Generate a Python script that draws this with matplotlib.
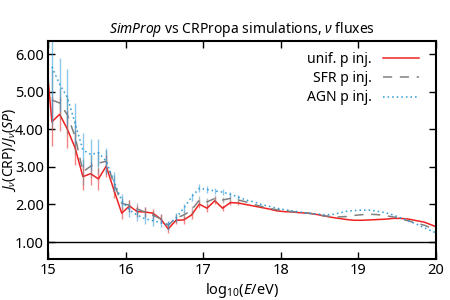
import matplotlib
matplotlib.use("Agg")
import matplotlib.pyplot as plt
import numpy as np

plt.rcParams["font.family"] = ["Noto Sans", "DejaVu Sans"]
plt.rcParams["mathtext.fontset"] = "custom"
plt.rcParams["mathtext.rm"] = "Noto Sans"
plt.rcParams["mathtext.it"] = "Noto Sans:italic"

# bin centres in log10(E/eV)
log_e = np.round(np.arange(14.95, 20.06, 0.1), 2)

unif = [6.50, 4.20, 4.40, 4.00, 3.50, 2.74, 2.82, 2.68, 3.02, 2.38,
        1.77, 1.96, 1.81, 1.80, 1.77, 1.62, 1.35, 1.58, 1.59, 1.72,
        2.01, 1.90, 2.10, 1.90, 2.05, 2.04, 2.00, 1.96, 1.92, 1.88,
        1.83, 1.81, 1.80, 1.78, 1.77, 1.74, 1.70, 1.66, 1.63, 1.60,
        1.58, 1.58, 1.59, 1.60, 1.61, 1.63, 1.63, 1.61, 1.57, 1.53,
        1.45, 1.37]
unif_err = [0.80, 0.65, 0.45, 0.50, 0.45, 0.35, 0.30, 0.30, 0.30, 0.22,
            0.16, 0.15, 0.15, 0.13, 0.12, 0.12, 0.10, 0.10, 0.10, 0.10,
            0.10, 0.10, 0.09, 0.08, 0.06, 0.05] + [0.0] * 26

sfr = [np.nan, 4.78, 4.70, 4.38, 3.80, 2.87, 3.02, 3.10, 3.15, 2.56,
       2.03, 1.98, 1.88, 1.80, 1.72, 1.62, 1.45, 1.64, 1.72, 1.85,
       2.12, 2.07, 2.16, 2.12, 2.16, 2.12, 2.07, 2.00, 1.95, 1.90,
       1.86, 1.84, 1.81, 1.79, 1.77, 1.74, 1.70, 1.68, 1.67, 1.68,
       1.71, 1.73, 1.74, 1.73, 1.70, 1.67, 1.62, 1.56, 1.50, 1.45,
       1.36, 1.28]
sfr_err = [0.0, 0.80, 0.40, 0.50, 0.45, 0.35, 0.30, 0.30, 0.30, 0.22,
           0.16, 0.15, 0.15, 0.13, 0.12, 0.12, 0.10, 0.10, 0.10, 0.10,
           0.10, 0.10, 0.09, 0.08, 0.06, 0.05] + [0.0] * 26

agn = [np.nan, 5.66, 5.20, 4.85, 4.15, 3.45, 3.33, 3.38, 3.15, 2.62,
       2.10, 1.85, 1.72, 1.62, 1.57, 1.52, 1.45, 1.65, 1.90, 2.20,
       2.43, 2.40, 2.36, 2.33, 2.27, 2.20, 2.12, 2.07, 2.00, 1.95,
       1.90, 1.86, 1.83, 1.80, 1.77, 1.75, 1.73, 1.73, 1.77, 1.82,
       1.84, 1.85, 1.85, 1.82, 1.78, 1.72, 1.64, 1.56, 1.48, 1.38,
       1.29, 1.20]
agn_err = [0.0, 1.50, 0.70, 0.75, 0.55, 0.45, 0.40, 0.35, 0.35, 0.25,
           0.18, 0.17, 0.17, 0.15, 0.14, 0.13, 0.12, 0.12, 0.11, 0.11,
           0.11, 0.10, 0.09, 0.08, 0.06, 0.05] + [0.0] * 26

SERIES = [
    ("unif. p inj.", unif, unif_err, "#ee2222", "-"),
    ("SFR p inj.", sfr, sfr_err, "#808080", (0, (6, 5))),
    ("AGN p inj.", agn, agn_err, "#2a9ad8", (0, (1, 2))),
]

fig = plt.figure(figsize=(4.5, 3.0), dpi=100)
ax = fig.add_axes([0.1067, 0.1367, 0.862, 0.7267])

ax.axhline(1.0, color="black", lw=1.0, zorder=1)

for label, vals, errs, color, ls in SERIES:
    vals = np.asarray(vals, dtype=float)
    errs = np.asarray(errs, dtype=float)
    has_err = errs > 0
    ax.vlines(log_e[has_err], vals[has_err] - errs[has_err],
              vals[has_err] + errs[has_err], color=color, lw=1.0, alpha=0.55)
    ax.plot(log_e, vals, color=color, ls=ls, lw=1.1, label=label)

ax.set_xlim(15, 20)
ax.set_ylim(0.55, 6.35)
ax.set_xticks([15, 16, 17, 18, 19, 20])
ax.set_yticks([1, 2, 3, 4, 5, 6])
ax.set_yticklabels([f"{v:.2f}" for v in [1, 2, 3, 4, 5, 6]])
ax.tick_params(direction="in", top=True, right=True, length=5, width=1.0,
               labelsize=10.5, pad=3)
for sp in ax.spines.values():
    sp.set_linewidth(1.5)

ax.set_title(r"$\mathit{SimProp}$ vs CRPropa simulations, $\mathit{ν}$ fluxes",
             fontsize=10, pad=6)
ax.set_xlabel(r"log$_{10}$($\mathit{E}$/eV)", fontsize=10.5, labelpad=2)
ax.set_ylabel(r"$\mathit{J_ν}$(CRP)/$\mathit{J_ν(SP)}$", fontsize=10)
ax.yaxis.set_label_coords(-0.078, 0.5)

ax.legend(loc="upper right", frameon=False, markerfirst=False, fontsize=10,
          handlelength=2.6, borderaxespad=0.4, labelspacing=0.3,
          bbox_to_anchor=(0.985, 1.0))

fig.savefig("out.png", dpi=100)
